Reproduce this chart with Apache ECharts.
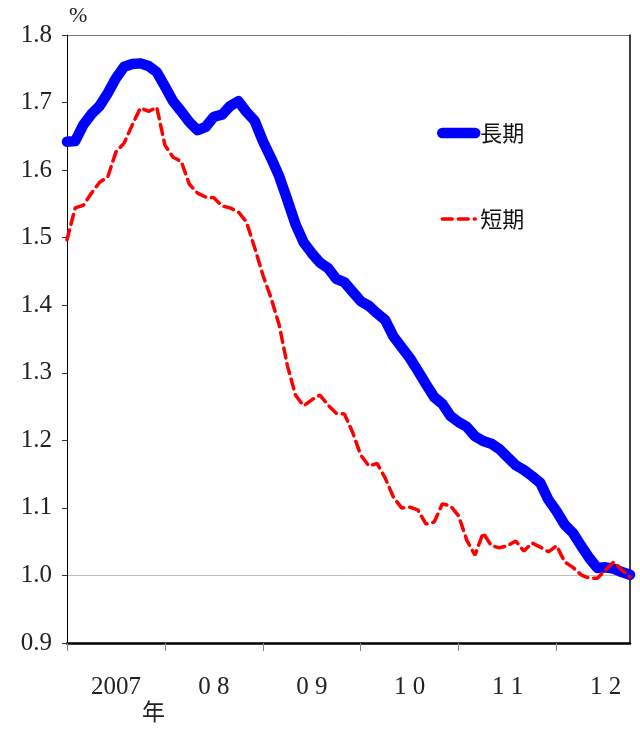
<!DOCTYPE html>
<html>
    <head>
        <meta charset='utf-8'>
        <script src='https://cdn.jsdelivr.net/npm/echarts@6/dist/echarts.min.js'></script>
    </head>
    <body>
        <style>
            html, body, #main {
                width: 100%;
                height: 100%;
                margin: 0;
                background: #fff;
            }
        </style>
        <div id='main'></div>
        <script>

            // tick labels, one per year (2007 .. 2012)
            var yearLabels = ['2007', '0 8', '0 9', '1 0', '1 1', '1 2'];

            // monthly values, Jan 2007 .. Oct 2012
            var longTerm = [
                1.642, 1.643, 1.667, 1.683, 1.695, 1.714, 1.736, 1.753, 1.757, 1.758, 1.754, 1.745,
                1.724, 1.702, 1.687, 1.671, 1.659, 1.664, 1.679, 1.682, 1.695, 1.702, 1.686, 1.673,
                1.643, 1.618, 1.591, 1.556, 1.520, 1.493, 1.477, 1.463, 1.455, 1.439, 1.434, 1.420,
                1.406, 1.399, 1.388, 1.378, 1.354, 1.338, 1.322, 1.303, 1.283, 1.264, 1.254, 1.236,
                1.227, 1.220, 1.206, 1.199, 1.195, 1.187, 1.175, 1.163, 1.156, 1.147, 1.137, 1.112,
                1.095, 1.075, 1.063, 1.044, 1.026, 1.011, 1.012, 1.010, 1.005, 1.001
            ];

            var shortTerm = [
                1.497, 1.544, 1.548, 1.566, 1.582, 1.590, 1.627, 1.640, 1.667, 1.692, 1.687, 1.693,
                1.637, 1.619, 1.613, 1.579, 1.566, 1.560, 1.559, 1.547, 1.544, 1.538, 1.523, 1.485,
                1.445, 1.411, 1.371, 1.311, 1.267, 1.251, 1.260, 1.267, 1.252, 1.240, 1.239, 1.212,
                1.178, 1.162, 1.166, 1.144, 1.116, 1.100, 1.101, 1.097, 1.076, 1.079, 1.106, 1.103,
                1.088, 1.052, 1.030, 1.063, 1.044, 1.041, 1.044, 1.051, 1.036, 1.048, 1.042, 1.035,
                1.044, 1.020, 1.012, 1.001, 0.996, 0.996, 1.008, 1.020, 1.008, 0.998
            ];

            var months = [];
            for (var i = 0; i < longTerm.length; i++) {
                months.push((2007 + Math.floor(i / 12)) + '-' + (i % 12 + 1));
            }

            var numFont = 'Liberation Serif';
            var cjkFont = 'Noto Sans CJK JP';

            var chart = echarts.init(document.getElementById('main'));

            var option = {
                backgroundColor: '#fff',
                animation: false,
                grid: {
                    left: 67,
                    right: 10,
                    top: 35,
                    bottom: 87
                },
                legend: {
                    orient: 'vertical',
                    left: 432,
                    top: 117,
                    itemWidth: 33,
                    itemHeight: 14,
                    itemGap: 64,
                    // plain line sample, no marker
                    itemStyle: { opacity: 0 },
                    lineStyle: { width: 'inherit' },
                    textStyle: {
                        fontFamily: cjkFont,
                        fontSize: 22,
                        color: '#111'
                    },
                    data: ['長期', '短期']
                },
                xAxis: {
                    type: 'category',
                    data: months,
                    boundaryGap: false,
                    axisLine: {
                        lineStyle: { color: '#000', width: 2.5 }
                    },
                    axisTick: {
                        interval: function (idx) { return idx % 12 === 0; },
                        length: 8,
                        lineStyle: { color: '#888' }
                    },
                    axisLabel: {
                        interval: function (idx) { return idx % 12 === 6; },
                        formatter: function (val, idx) {
                            return yearLabels[Math.floor(idx / 12)];
                        },
                        margin: 32,
                        fontFamily: numFont,
                        fontSize: 25,
                        color: '#222'
                    },
                    splitLine: { show: false }
                },
                yAxis: [{
                    type: 'value',
                    min: 0.9,
                    max: 1.8,
                    interval: 0.1,
                    axisLine: {
                        show: true,
                        lineStyle: { color: '#000', width: 1 }
                    },
                    axisTick: {
                        show: true,
                        length: 5,
                        lineStyle: { color: '#333' }
                    },
                    axisLabel: {
                        formatter: function (v) { return v.toFixed(1); },
                        margin: 15,
                        fontFamily: numFont,
                        fontSize: 25,
                        color: '#222'
                    },
                    splitLine: {
                        show: true,
                        lineStyle: {
                            // only 1.0 and the top edge get a line
                            color: ['rgba(0,0,0,0)', '#bbb', 'rgba(0,0,0,0)', 'rgba(0,0,0,0)',
                                'rgba(0,0,0,0)', 'rgba(0,0,0,0)', 'rgba(0,0,0,0)',
                                'rgba(0,0,0,0)', 'rgba(0,0,0,0)', '#777'],
                            width: 1
                        }
                    }
                }, {
                    type: 'value',
                    position: 'right',
                    min: 0.9,
                    max: 1.8,
                    interval: 0.1,
                    axisLine: {
                        show: true,
                        lineStyle: { color: '#000', width: 1.5 }
                    },
                    axisTick: { show: false },
                    axisLabel: { show: false },
                    splitLine: { show: false }
                }],
                graphic: [{
                    type: 'text',
                    left: 69,
                    top: 5,
                    style: {
                        text: '%',
                        fontFamily: numFont,
                        fontSize: 22,
                        fill: '#222'
                    }
                }, {
                    type: 'text',
                    left: 142,
                    top: 700,
                    style: {
                        text: '年',
                        fontFamily: cjkFont,
                        fontSize: 23,
                        fill: '#222'
                    }
                }],
                series: [{
                    name: '長期',
                    type: 'line',
                    data: longTerm,
                    symbol: 'none',
                    z: 3,
                    lineStyle: {
                        color: '#0000ff',
                        width: 10.5,
                        cap: 'round',
                        join: 'round'
                    },
                    itemStyle: { color: '#0000ff' }
                }, {
                    name: '短期',
                    type: 'line',
                    data: shortTerm,
                    symbol: 'none',
                    z: 4,
                    lineStyle: {
                        color: '#ff0000',
                        width: 3.5,
                        type: [10, 6],
                        cap: 'round'
                    },
                    itemStyle: { color: '#ff0000' }
                }]
            };

            chart.setOption(option);

        </script>
    </body>
</html>
